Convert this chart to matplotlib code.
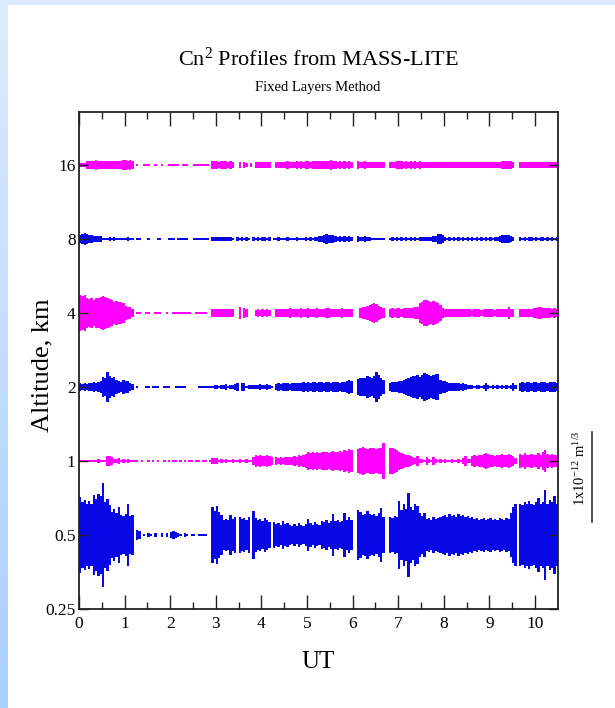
import numpy as np
import matplotlib
matplotlib.use("Agg")
import matplotlib.pyplot as plt
import matplotlib.transforms as mtransforms
from matplotlib.colors import LinearSegmentedColormap

plt.rcParams['font.family'] = ['Liberation Serif', 'DejaVu Serif']
plt.rcParams['mathtext.fontset'] = 'custom'
plt.rcParams['mathtext.rm'] = 'Liberation Serif'
plt.rcParams['mathtext.it'] = 'Liberation Serif:italic'
plt.rcParams['mathtext.bf'] = 'Liberation Serif:bold'

# ---------------------------------------------------------------------------
# MASS-LITE fixed-layer Cn2 integrals, 3-minute (0.05 h) bins from 0 to 10.5 UT
# values in units of 1e-14 m^(1/3); 0 = no measurement in the bin
# ---------------------------------------------------------------------------
UT_START, UT_END, UT_BIN = 0.0, 10.5, 0.05

altitudes_km = [0.5, 1, 2, 4, 8, 16]
altitude_ticks = [0.25, 0.5, 1, 2, 4, 8, 16]
altitude_tick_labels = ['0.25', '0.5', '1', '2', '4', '8', '16']
ut_ticks = list(range(0, 11))

cn2_0p5km = [
    84, 73, 77, 68, 75, 70, 88, 81, 92, 86,
    115, 73, 79, 66, 51, 57, 48, 62, 44, 42,
    46, 68, 42, 44, 0, 11, 9, 0, 3, 0,
    5, 3, 0, 4, 0, 0, 5, 0, 4, 0,
    6, 9, 7, 4, 3, 0, 4, 3, 0, 3,
    3, 0, 3, 2, 3, 2, 0, 0, 62, 53,
    64, 51, 44, 33, 35, 33, 44, 35, 41, 0,
    40, 35, 37, 33, 40, 0, 53, 37, 33, 35,
    31, 37, 33, 29, 0, 29, 24, 26, 22, 31,
    24, 26, 22, 20, 24, 20, 26, 22, 20, 24,
    35, 26, 22, 29, 24, 22, 31, 29, 33, 26,
    31, 46, 31, 33, 29, 31, 48, 33, 40, 33,
    0, 0, 55, 51, 44, 46, 53, 46, 44, 46,
    42, 48, 59, 40, 0, 0, 40, 37, 42, 40,
    75, 55, 70, 57, 94, 62, 55, 68, 64, 48,
    42, 48, 35, 37, 33, 40, 35, 37, 40, 42,
    44, 40, 46, 42, 44, 40, 46, 42, 44, 40,
    42, 37, 40, 35, 37, 33, 35, 37, 33, 35,
    37, 33, 35, 33, 37, 35, 33, 37, 35, 48,
    62, 68, 0, 68, 66, 73, 68, 75, 70, 66,
    73, 83, 68, 73, 101, 70, 77, 73, 86, 70,
]

cn2_1km = [
    2, 3, 2, 2, 2, 2, 2, 3, 5, 2,
    2, 3, 11, 12, 10, 4, 4, 6, 3, 4,
    3, 5, 3, 2, 2, 2, 0, 2, 0, 0,
    2, 0, 2, 0, 2, 0, 0, 2, 0, 2,
    0, 2, 2, 0, 2, 0, 2, 0, 2, 2,
    0, 2, 2, 0, 2, 2, 0, 2, 6, 7,
    6, 3, 5, 3, 5, 3, 2, 4, 2, 3,
    5, 2, 3, 5, 2, 2, 10, 13, 12, 13,
    11, 12, 13, 11, 10, 0, 8, 7, 9, 7,
    9, 8, 10, 9, 11, 10, 13, 11, 13, 15,
    19, 18, 20, 17, 19, 18, 20, 19, 21, 18,
    20, 22, 19, 21, 23, 20, 24, 22, 26, 24,
    0, 0, 26, 29, 31, 29, 26, 30, 28, 29,
    26, 30, 28, 40, 0, 0, 30, 29, 26, 24,
    20, 18, 15, 13, 14, 11, 9, 7, 11, 5,
    4, 3, 9, 4, 3, 10, 5, 3, 4, 3,
    5, 3, 3, 4, 3, 3, 4, 3, 6, 11,
    5, 4, 11, 13, 12, 14, 13, 15, 17, 15,
    14, 13, 12, 13, 14, 15, 13, 14, 15, 13,
    11, 6, 0, 15, 14, 17, 14, 13, 15, 13,
    14, 17, 14, 20, 25, 15, 13, 15, 13, 14,
]

cn2_2km = [
    8, 7, 9, 6, 8, 10, 11, 9, 12, 14,
    22, 20, 34, 24, 20, 22, 15, 14, 12, 15,
    13, 14, 8, 7, 0, 2, 0, 0, 0, 2,
    2, 0, 2, 2, 2, 0, 0, 2, 2, 2,
    0, 0, 2, 2, 2, 2, 2, 0, 0, 0,
    0, 0, 2, 2, 2, 2, 2, 2, 3, 4,
    5, 3, 5, 4, 6, 3, 5, 4, 6, 8,
    0, 8, 9, 3, 4, 5, 4, 5, 4, 6,
    5, 4, 6, 5, 3, 0, 7, 8, 7, 8,
    9, 8, 7, 9, 8, 10, 9, 10, 11, 10,
    11, 10, 12, 11, 10, 12, 11, 10, 12, 11,
    10, 12, 11, 12, 10, 11, 12, 13, 15, 14,
    0, 0, 18, 19, 20, 19, 25, 22, 20, 24,
    33, 26, 20, 16, 0, 0, 10, 11, 12, 11,
    13, 14, 16, 18, 20, 22, 25, 24, 26, 23,
    27, 32, 28, 26, 25, 26, 28, 30, 15, 14,
    13, 11, 10, 9, 8, 9, 8, 7, 8, 6,
    5, 4, 5, 3, 4, 5, 3, 4, 9, 5,
    3, 4, 3, 4, 3, 4, 3, 4, 3, 4,
    8, 4, 0, 10, 11, 10, 12, 11, 10, 12,
    11, 10, 12, 11, 12, 10, 11, 12, 11, 10,
]

cn2_4km = [
    40, 38, 41, 33, 32, 34, 30, 33, 34, 36,
    37, 35, 33, 32, 28, 25, 26, 24, 25, 22,
    15, 14, 13, 10, 0, 2, 2, 0, 0, 2,
    2, 0, 0, 2, 2, 2, 0, 0, 2, 0,
    0, 2, 2, 2, 2, 2, 2, 2, 2, 0,
    0, 2, 2, 2, 2, 2, 0, 0, 10, 9,
    10, 8, 9, 10, 9, 8, 10, 9, 0, 0,
    13, 0, 11, 8, 0, 0, 0, 7, 8, 7,
    8, 7, 8, 7, 0, 0, 9, 10, 9, 10,
    9, 10, 11, 9, 10, 9, 10, 11, 9, 10,
    11, 10, 9, 10, 11, 10, 9, 10, 11, 12,
    10, 9, 10, 9, 10, 11, 9, 10, 9, 10,
    0, 0, 0, 12, 14, 13, 15, 17, 19, 22,
    20, 16, 14, 12, 0, 0, 10, 11, 10, 12,
    11, 10, 11, 12, 11, 12, 11, 13, 14, 22,
    25, 28, 30, 27, 25, 26, 24, 22, 18, 12,
    9, 8, 9, 8, 9, 8, 9, 8, 9, 8,
    9, 8, 7, 8, 9, 8, 7, 8, 9, 8,
    9, 8, 7, 8, 9, 8, 9, 10, 13, 10,
    8, 0, 0, 9, 10, 9, 10, 9, 10, 11,
    12, 13, 14, 12, 11, 12, 11, 10, 11, 10,
]

cn2_8km = [
    10, 12, 13, 11, 10, 8, 7, 6, 7, 6,
    3, 2, 2, 5, 2, 5, 2, 2, 2, 2,
    2, 5, 2, 2, 0, 2, 2, 0, 0, 0,
    2, 0, 0, 0, 2, 2, 0, 0, 0, 2,
    2, 2, 0, 2, 2, 2, 2, 2, 0, 0,
    2, 2, 2, 2, 2, 2, 2, 0, 4, 5,
    4, 5, 4, 5, 4, 5, 4, 3, 0, 4,
    2, 4, 2, 4, 2, 0, 4, 3, 4, 3,
    4, 4, 3, 4, 0, 3, 3, 4, 3, 2,
    3, 4, 3, 2, 3, 4, 3, 2, 3, 4,
    3, 4, 3, 4, 5, 6, 7, 9, 11, 10,
    8, 9, 6, 5, 6, 5, 6, 5, 6, 5,
    0, 0, 6, 5, 5, 6, 5, 4, 3, 2,
    2, 2, 2, 2, 0, 0, 3, 4, 3, 4,
    3, 4, 3, 4, 3, 4, 3, 4, 3, 4,
    5, 4, 5, 4, 5, 6, 7, 11, 12, 8,
    4, 3, 4, 3, 4, 3, 4, 3, 4, 3,
    4, 3, 4, 3, 4, 3, 4, 3, 4, 3,
    4, 3, 4, 4, 6, 8, 10, 9, 8, 7,
    5, 0, 0, 4, 3, 4, 3, 4, 5, 3,
    4, 3, 4, 5, 3, 4, 3, 4, 3, 4,
]

cn2_16km = [
    4, 5, 4, 8, 9, 8, 10, 11, 10, 9,
    10, 9, 8, 9, 8, 9, 8, 9, 10, 11,
    11, 10, 11, 10, 0, 2, 0, 0, 2, 2,
    2, 0, 0, 2, 0, 0, 2, 0, 0, 2,
    2, 2, 2, 2, 0, 2, 2, 2, 0, 0,
    2, 2, 2, 2, 2, 2, 2, 0, 8, 9,
    8, 7, 8, 9, 8, 7, 8, 7, 0, 0,
    6, 0, 6, 5, 0, 5, 0, 6, 7, 6,
    7, 6, 7, 6, 0, 0, 7, 6, 7, 6,
    7, 8, 7, 6, 7, 8, 7, 8, 7, 8,
    8, 7, 9, 8, 9, 10, 9, 10, 9, 10,
    11, 9, 8, 7, 8, 7, 8, 7, 8, 7,
    0, 0, 8, 7, 7, 8, 7, 6, 7, 6,
    7, 6, 7, 6, 0, 0, 7, 6, 7, 8,
    9, 8, 7, 8, 7, 8, 7, 8, 7, 8,
    7, 6, 7, 6, 7, 6, 7, 6, 7, 6,
    7, 6, 7, 6, 7, 6, 7, 6, 7, 6,
    7, 6, 7, 6, 7, 6, 7, 6, 7, 6,
    7, 6, 7, 6, 7, 8, 9, 10, 9, 8,
    7, 0, 0, 6, 7, 6, 7, 6, 7, 6,
    7, 6, 7, 6, 7, 6, 7, 6, 7, 6,
]

layer_series = [cn2_0p5km, cn2_1km, cn2_2km, cn2_4km, cn2_8km, cn2_16km]
layer_colors = ['#0808e6', '#ff00ff', '#0808e6', '#ff00ff', '#0808e6', '#ff00ff']

SCALE_BAR_CN2 = 100.0          # 1e-12 m^(1/3) expressed in 1e-14 units
OCTAVES_PER_UNIT = 1.216 / 100.0  # vertical size of one Cn2 unit on the log2 altitude axis

# ---------------------------------------------------------------------------
fig = plt.figure(figsize=(6.15, 7.08), dpi=100)
fig.patch.set_facecolor('white')

# light-blue page border (left gradient strip + top band)
grad_ax = fig.add_axes([0, 0, 7 / 615, 1])
grad_cmap = LinearSegmentedColormap.from_list('border', ['#dcebff', '#aacfff'])
grad_ax.imshow(np.linspace(0, 1, 256).reshape(-1, 1), aspect='auto', cmap=grad_cmap,
               extent=[0, 1, 0, 1])
grad_ax.set_axis_off()
top_ax = fig.add_axes([0, 1 - 5 / 708, 1, 5 / 708])
top_ax.set_facecolor('#dcebff')
top_ax.set_xticks([]); top_ax.set_yticks([])
for s in top_ax.spines.values():
    s.set_visible(False)

ax = fig.add_axes([79 / 615, 1 - 609 / 708, (557.8 - 79) / 615, (609 - 112) / 708])

edges = np.linspace(UT_START, UT_END, len(cn2_0p5km) + 1)
for alt, series, col in zip(altitudes_km, layer_series, layer_colors):
    vals = np.asarray(series, dtype=float)
    center = np.log2(alt)
    half = vals * OCTAVES_PER_UNIT / 2.0
    ax.stairs(center + half, edges, baseline=center - half, fill=True,
              color=col, linewidth=0)

ax.set_xlim(UT_START, UT_END)
ax.set_ylim(np.log2(0.25), np.log2(0.25) + (609 - 112) / 74.0)

ax.set_yticks(np.log2(altitude_ticks))
ax.set_yticklabels(altitude_tick_labels)
ax.set_xticks(ut_ticks)
ax.set_xticks(np.arange(0.5, 10.5, 1.0), minor=True)

ax.tick_params(which='both', direction='in', top=True, right=True,
               colors='#222222', width=1.0, labelsize=12.5, labelcolor='black')
ax.xaxis.set_tick_params(which='major', length=10, pad=5)
ax.xaxis.set_tick_params(which='minor', length=5)
ax.yaxis.set_tick_params(which='major', length=6.5, pad=2.5)
for s in ax.spines.values():
    s.set_color('#222222')
    s.set_linewidth(1.3)

# titles and axis labels
fig.text(318 / 615, 1 - 59 / 708, 'Cn$^{2}$ Profiles from MASS-LITE',
         ha='center', va='center', fontsize=16)
fig.text(318 / 615, 1 - 87 / 708, 'Fixed Layers Method',
         ha='center', va='center', fontsize=10.5)
fig.text(42 / 615, 1 - 365 / 708, 'Altitude, km', rotation=90,
         ha='center', va='center', fontsize=19)
fig.text(318 / 615, 1 - 662 / 708, 'UT', ha='center', va='center', fontsize=18)

# Cn2 scale bar on the right-hand side
bar_center = np.log2(0.25) + (609 - 477) / 74.0
bar_half = SCALE_BAR_CN2 * OCTAVES_PER_UNIT / 2.0
trans = mtransforms.blended_transform_factory(ax.transAxes, ax.transData)
bar_x = (592 - 79) / (557.8 - 79)
ax.plot([bar_x, bar_x], [bar_center - bar_half, bar_center + bar_half],
        color='#333333', lw=1.2, transform=trans, clip_on=False)
fig.text(580 / 615, 1 - 468 / 708, '1x10$^{-12}$ m$^{1/3}$', rotation=90,
         ha='center', va='center', fontsize=10.5)

fig.savefig('out.png', dpi=100, facecolor='white')
